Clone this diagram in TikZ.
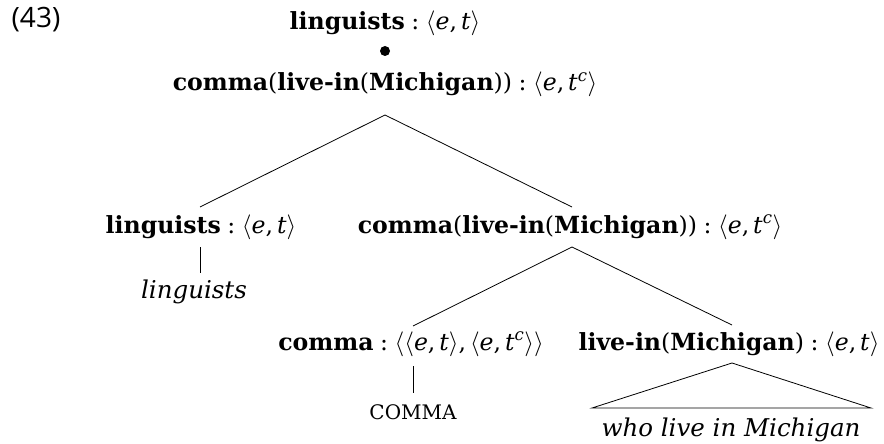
\documentclass[tikz,border=0pt]{standalone}
\usepackage{fontspec}
\setmainfont{DejaVu Serif}
\newfontfamily\numfont{Open Sans}
\newcommand{\ty}[1]{$\langle$#1$\rangle$}
\newcommand{\te}{\textit{e}}
\newcommand{\tT}{\textit{t}}
\newcommand{\tC}{\textit{t}\textsuperscript{\textit{c}}}
\newcommand{\cl}{\;:\;}
\newcommand{\cm}{,\,}
\tikzset{
  lbl/.style={anchor=base, inner sep=0pt, font=\fontsize{23.6}{27}\selectfont},
  leaf/.style={anchor=base, inner sep=0pt, font=\fontsize{24.5}{28}\selectfont\itshape},
  branch/.style={line width=0.8pt, black},
}
\begin{document}
\begin{tikzpicture}[x=1pt,y=-1pt]
\useasboundingbox (0,0) rectangle (884,444);
\node[anchor=base, inner sep=0pt, font=\fontsize{28}{32}\selectfont\numfont] (ex) at (36,28) {(43)};
\node[lbl] (top) at (385,30) {\textbf{linguists}\cl\ty{\te\cm\tT}};
\node[circle, fill=black, inner sep=0pt, minimum size=10pt] (dot) at (385,51) {};
\node[lbl] (root) at (385,91) {\textbf{comma}(\textbf{live-in}(\textbf{Michigan}))\cl\ty{\te\cm\tC}};
\node[lbl] (L) at (201,233) {\textbf{linguists}\cl\ty{\te\cm\tT}};
\node[leaf] (Lw) at (194,298) {linguists};
\node[lbl] (R) at (570,233) {\textbf{comma}(\textbf{live-in}(\textbf{Michigan}))\cl\ty{\te\cm\tC}};
\node[lbl] (C) at (411,350) {\textbf{comma}\cl\ty{\ty{\te\cm\tT}\cm\ty{\te\cm\tC}}};
\node[anchor=base, inner sep=0pt, font=\fontsize{20}{24}\selectfont] (Cw) at (413,419) {COMMA};
\node[lbl] (V) at (729,350) {\textbf{live-in}(\textbf{Michigan})\cl\ty{\te\cm\tT}};
\node[leaf] (Vw) at (731,436) {who live in Michigan};
\draw[branch] ([yshift=-24pt]root.base) -- ([xshift=-1pt,yshift=26pt]L.base);
\draw[branch] ([yshift=-24pt]root.base) -- ([xshift=2pt,yshift=26pt]R.base);
\draw[branch] ([xshift=-1pt,yshift=-14pt]L.base) -- ([xshift=-1pt,yshift=-40pt]L.base);
\draw[branch] ([xshift=2pt,yshift=-14pt]R.base) -- ([xshift=2pt,yshift=24pt]C.base);
\draw[branch] ([xshift=2pt,yshift=-14pt]R.base) -- ([xshift=3pt,yshift=25pt]V.base);
\draw[branch] ([xshift=2pt,yshift=-16pt]C.base) -- ([xshift=2pt,yshift=-43pt]C.base);
\draw[branch] ([xshift=3pt,yshift=-13pt]V.base) -- ([xshift=-137pt,yshift=-58pt]V.base) -- ([xshift=142pt,yshift=-58pt]V.base) -- cycle;
\end{tikzpicture}
\end{document}
